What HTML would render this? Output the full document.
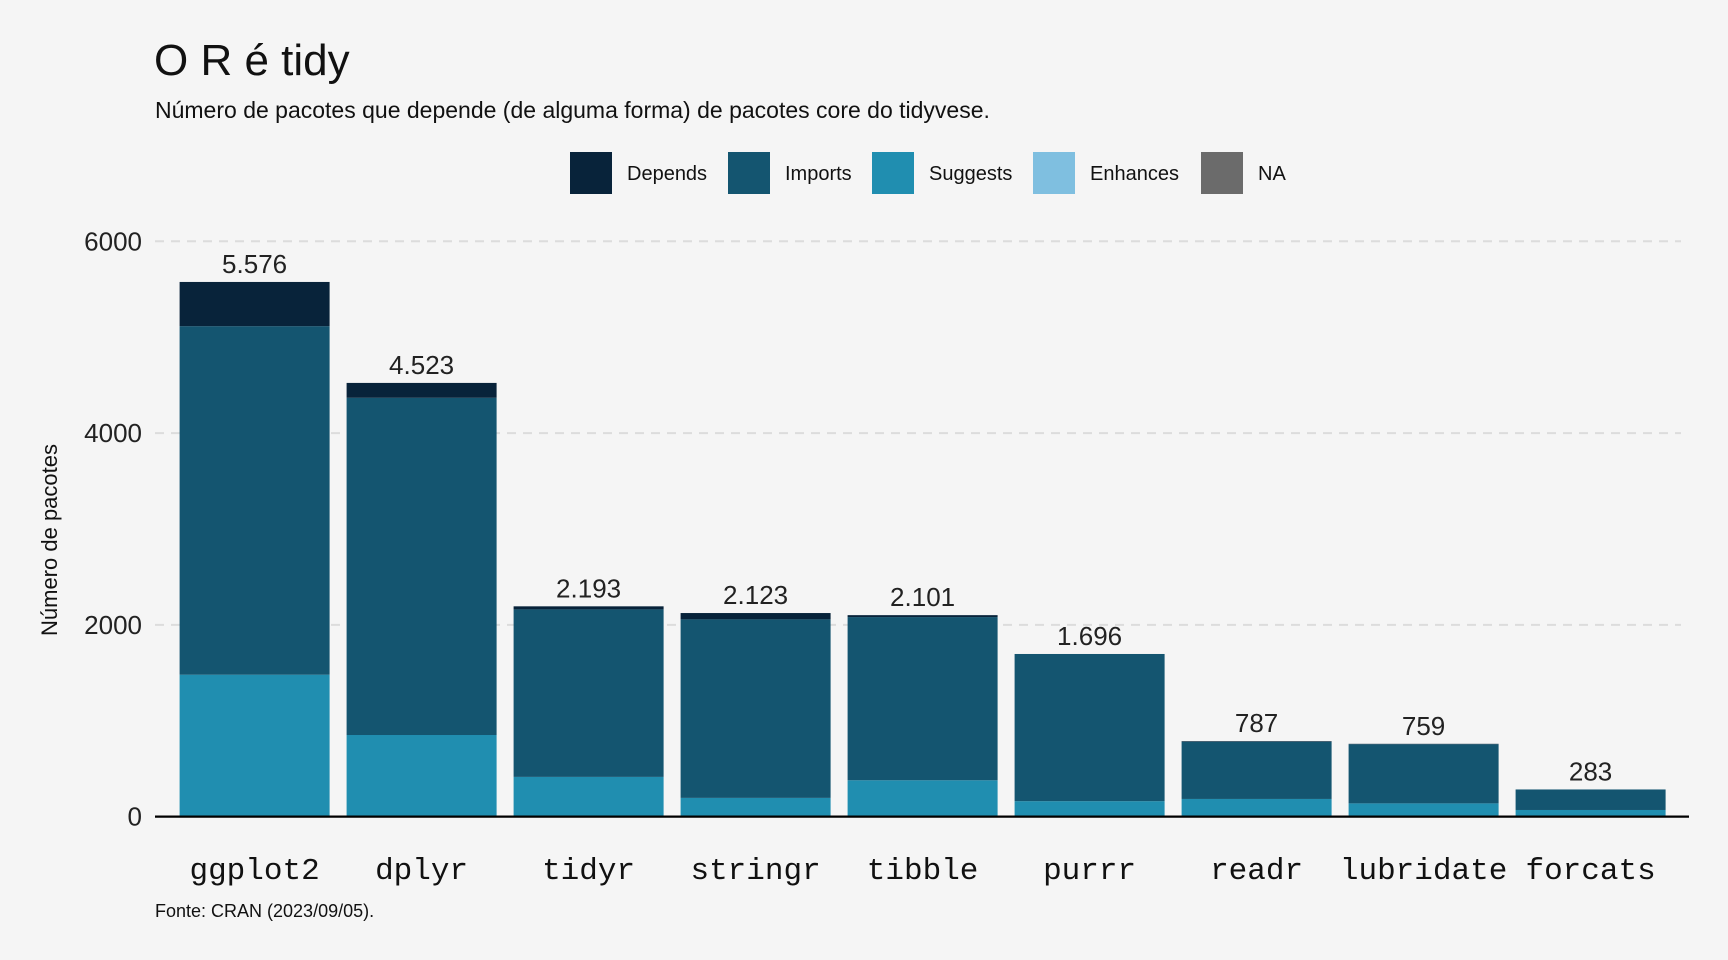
<!DOCTYPE html>
<html><head><meta charset="utf-8">
<style>
body{margin:0;background:#f5f5f5;}
svg{display:block;font-family:"Liberation Sans",Arial,sans-serif;}
</style></head>
<body>
<svg id="chart" width="1728" height="960" viewBox="0 0 1728 960">
<rect width="1728" height="960" fill="#f5f5f5"/>
<text x="154" y="75" font-size="44" fill="#111">O R é tidy</text>
<text x="155" y="118" font-size="23" fill="#111">Número de pacotes que depende (de alguma forma) de pacotes core do tidyvese.</text>
<g id="legend"></g>
<g id="grid"></g>
<g id="bars"></g>
<g id="yaxis"></g>
<g id="xaxis"></g>
<text transform="translate(57,540) rotate(-90)" text-anchor="middle" font-size="22" fill="#111">Número de pacotes</text>
<text x="155" y="917" font-size="18" fill="#111">Fonte: CRAN (2023/09/05).</text>
</svg>
<script>
const categories=["ggplot2","dplyr","tidyr","stringr","tibble","purrr","readr","lubridate","forcats"];
const suggests=[1480,851,414,195,379,161,184,138,69];
const imports=[3635,3517,1747,1862,1702,1535,597,617,214];
const depends=[461,155,32,66,20,0,6,4,0];
const totalLabels=["5.576","4.523","2.193","2.123","2.101","1.696","787","759","283"];
const yTicks=[0,2000,4000,6000];
const legendLabels=["Depends","Imports","Suggests","Enhances","NA"];
const legendColors=["#08233a","#145570","#208eb0","#7fbfe0","#6b6b6b"];

const NS="http://www.w3.org/2000/svg";
const y0=816.6,yPerUnit=(816.6-241.3)/6000;
const y=v=>y0-v*yPerUnit;
const firstCenter=254.6,pitch=167,bw=150;
const x=i=>firstCenter+i*pitch;
function mk(tag,attrs,parent,txt){const e=document.createElementNS(NS,tag);for(const k in attrs)e.setAttribute(k,attrs[k]);if(txt!==undefined)e.textContent=txt;parent.appendChild(e);return e;}

const grid=document.getElementById('grid'),yaxis=document.getElementById('yaxis');
yTicks.forEach(t=>{
  if(t>0){const l=mk('line',{x1:155,x2:1681,y1:y(t),y2:y(t),stroke:'#dcdcdc','stroke-width':2,'stroke-dasharray':'9,7'},grid);
  
  }
  const tx=mk('text',{x:142,y:y(t)+9,'text-anchor':'end','font-size':26,fill:'#222'},yaxis,String(t));
  
  
});

const bars=document.getElementById('bars'),xaxis=document.getElementById('xaxis');
categories.forEach((c,i)=>{
  const series=[[suggests[i],'#208eb0','suggests'],[imports[i],'#145570','imports'],[depends[i],'#08233a','depends']];
  let base=0;
  series.forEach(s=>{
    const r=mk('rect',{x:x(i)-bw/2,y:y(base+s[0]),width:bw,height:s[0]*yPerUnit,fill:s[1]},bars);
    
    
    base+=s[0];
  });
  const lab=mk('text',{x:x(i),y:y(base)-9,'text-anchor':'middle','font-size':26,fill:'#222'},bars,totalLabels[i]);
  
  
  const xl=mk('text',{x:x(i),y:879,'text-anchor':'middle','font-size':31,fill:'#111','font-family':'"Liberation Mono",monospace'},xaxis,c);
  
  
});
const ax=mk('line',{x1:155,x2:1689,y1:y0,y2:y0,stroke:'#000','stroke-width':2.2},xaxis);



const legend=document.getElementById('legend');
const lx=[570,728,872,1033,1201];
legendLabels.forEach((l,i)=>{
  const r=mk('rect',{x:lx[i],y:152,width:42,height:42,fill:legendColors[i]},legend);
  
  
  const t=mk('text',{x:lx[i]+57,y:180,'font-size':20,fill:'#111'},legend,l);
  
  
});
</script>
</body></html>
